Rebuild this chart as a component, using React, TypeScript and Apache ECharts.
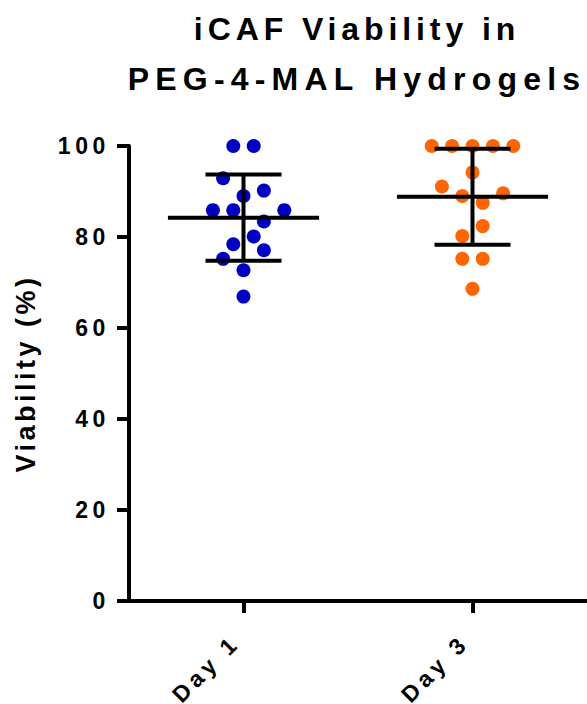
import React, { useEffect, useRef } from "react";
import * as echarts from "echarts";

const categories = ["Day 1", "Day 3"];
const day1Values = [100, 100, 92.9, 90.2, 89.0, 85.9, 85.9, 85.9, 83.4, 80.1, 78.4, 77.1, 75.2, 72.7, 66.9];
const day1Jitter = [-1, 1, -2, 2, 0, -3, -1, 4, 2, 1, -1, 2, -2, 0, 0];
const day3Values = [100, 100, 100, 100, 100, 94.2, 91.1, 89.6, 89.0, 87.5, 82.4, 80.2, 75.2, 75.2, 68.6];
const day3Jitter = [-4, -2, 0, 2, 4, 0, -3, 3, -1, 1, 1, -1, -1, 1, 0];
const titleText = "iCAF Viability in\nPEG-4-MAL Hydrogels";
const yAxisName = "Viability (%)";

const FONT = "'Liberation Sans', Arial, sans-serif";
const JITTER_STEP = 10.2;

function meanSd(vals: number[]) {
  const n = vals.length;
  const m = vals.reduce((a, b) => a + b, 0) / n;
  const v = vals.reduce((a, b) => a + (b - m) * (b - m), 0) / (n - 1);
  return [m, Math.sqrt(v)];
}

const spacingMap: Record<string, number> = {
  "iCAF Viability in": 4.9,
  "PEG-4-MAL Hydrogels": 6.2,
  "Viability (%)": 3.5,
  "Day 1": 4.6,
  "Day 3": 4.6,
};

function applySpacing(root: HTMLElement) {
  const texts = root.querySelectorAll("text");
  texts.forEach((t) => {
    const c = (t.textContent || "").trim();
    let s = spacingMap[c];
    if (s === undefined && /^\d+$/.test(c)) s = 4.6;
    if (s !== undefined) t.setAttribute("letter-spacing", String(s));
  });
}

export default function App() {
  const ref = useRef<HTMLDivElement>(null);
  useEffect(() => {
    if (!ref.current) return;
    const chart = echarts.init(ref.current, undefined, { renderer: "svg" });
    const [m1, s1] = meanSd(day1Values);
    const [m3, s3] = meanSd(day3Values);
    const option: any = {
      animation: false,
      title: {
        text: titleText,
        left: 352,
        top: -1,
        textAlign: "center",
        textStyle: { fontFamily: FONT, fontWeight: "bold", fontSize: 32, lineHeight: 50, color: "#000" },
      },
      grid: { left: 129, right: 0, top: 146, bottom: 103, containLabel: false },
      xAxis: {
        type: "category",
        data: categories,
        boundaryGap: true,
        axisLine: { show: true, lineStyle: { color: "#000", width: 4 } },
        axisTick: { show: true, alignWithLabel: true, length: 12, lineStyle: { color: "#000", width: 4 } },
        axisLabel: {
          rotate: 45,
          margin: 30,
          padding: [0, 11, 0, 0],
          fontFamily: FONT,
          fontWeight: "bold",
          fontSize: 23,
          color: "#000",
        },
        splitLine: { show: false },
      },
      yAxis: {
        type: "value",
        min: 0,
        max: 100,
        interval: 20,
        name: yAxisName,
        nameLocation: "middle",
        nameGap: 90,
        nameTextStyle: { fontFamily: FONT, fontWeight: "bold", fontSize: 27, color: "#000" },
        axisLine: { show: true, lineStyle: { color: "#000", width: 4 } },
        axisTick: { show: true, length: 12, lineStyle: { color: "#000", width: 4 } },
        axisLabel: { margin: 19, fontFamily: FONT, fontWeight: "bold", fontSize: 23, color: "#000" },
        splitLine: { show: false },
      },
      series: [
        {
          type: "scatter",
          z: 2,
          symbol: "circle",
          symbolSize: 14,
          itemStyle: { color: "#0000C0", opacity: 1 },
          data: day1Values.map((v, i) => ({ value: [0, v], symbolOffset: [day1Jitter[i] * JITTER_STEP, 0] })),
        },
        {
          type: "scatter",
          z: 2,
          symbol: "circle",
          symbolSize: 14,
          itemStyle: { color: "#FF6600", opacity: 1 },
          data: day3Values.map((v, i) => ({ value: [1, v], symbolOffset: [day3Jitter[i] * JITTER_STEP, 0] })),
        },
        {
          type: "custom",
          z: 5,
          encode: { x: 0, y: 1 },
          data: [
            [0, m1, s1],
            [1, m3, s3],
          ],
          renderItem: (params: any, api: any) => {
            const idx = api.value(0);
            const m = api.value(1);
            const sd = api.value(2);
            const c = api.coord([idx, m]);
            const t = api.coord([idx, m + sd]);
            const b = api.coord([idx, m - sd]);
            const bw = api.size([1, 0])[0];
            const half = bw * 0.33;
            const cap = bw * 0.166;
            const st = { stroke: "#000", lineWidth: 4 };
            return {
              type: "group",
              children: [
                { type: "line", shape: { x1: c[0] - half, y1: c[1], x2: c[0] + half, y2: c[1] }, style: st },
                { type: "line", shape: { x1: c[0], y1: t[1], x2: c[0], y2: b[1] }, style: st },
                { type: "line", shape: { x1: c[0] - cap, y1: t[1], x2: c[0] + cap, y2: t[1] }, style: st },
                { type: "line", shape: { x1: c[0] - cap, y1: b[1], x2: c[0] + cap, y2: b[1] }, style: st },
              ],
            };
          },
        },
      ],
    };
    chart.setOption(option);
    const el = ref.current;
    applySpacing(el);
    chart.on("finished", () => applySpacing(el));
    const tm = setTimeout(() => applySpacing(el), 50);
    return () => {
      clearTimeout(tm);
      chart.dispose();
    };
  }, []);
  return (
    <div
      ref={ref}
      style={{ position: "absolute", left: 0, top: 0, width: 587, height: 704, background: "#fff" }}
    />
  );
}
